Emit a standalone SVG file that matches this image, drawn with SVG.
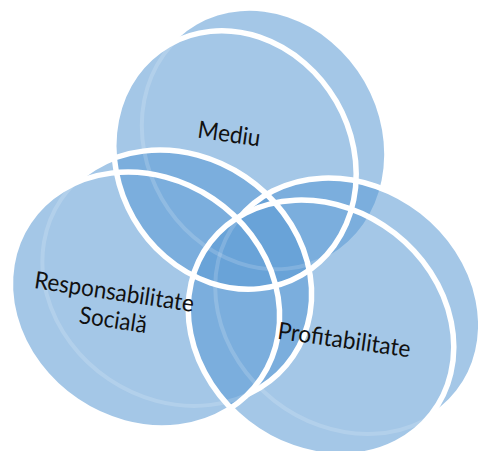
<svg xmlns="http://www.w3.org/2000/svg" width="478" height="451" viewBox="0 0 478 451">
<defs>
<style>
.disk{fill:#5B9BD5}
.layer{opacity:.55}
.rim{fill:none;stroke:#fff;stroke-width:5.5}
.ghost{fill:none;stroke:#fff;stroke-width:4;stroke-opacity:.16}
.label{font-family:Lato,"Open Sans","Liberation Sans",sans-serif;font-size:24px;fill:#111;text-anchor:middle}
</style>
<ellipse id="faceTop" cx="235" cy="160" rx="133" ry="117" transform="rotate(60 235 160)"/>
<ellipse id="faceLeft" cx="145" cy="300" rx="140" ry="122" transform="rotate(34 145 300)"/>
<ellipse id="faceRight" cx="321" cy="328" rx="140" ry="120" transform="rotate(38 321 328)"/>
<clipPath id="inTop"><use href="#faceTop"/></clipPath>
<clipPath id="inLeft"><use href="#faceLeft"/></clipPath>
<clipPath id="inRight"><use href="#faceRight"/></clipPath>
<mask id="outLeft" maskUnits="userSpaceOnUse" x="0" y="0" width="478" height="451"><rect width="478" height="451" fill="#fff"/><use href="#faceLeft" fill="#000"/></mask>
<mask id="outRight" maskUnits="userSpaceOnUse" x="0" y="0" width="478" height="451"><rect width="478" height="451" fill="#fff"/><use href="#faceRight" fill="#000"/></mask>
</defs>

<g id="node-mediu" class="layer">
<use href="#faceTop" x="28" y="-20" class="disk"/>
<use href="#faceTop" class="disk"/>
</g>
<g id="node-responsabilitate" class="layer">
<use href="#faceLeft" x="32" y="-22" class="disk"/>
<use href="#faceLeft" class="disk"/>
</g>
<g id="node-profitabilitate" class="layer">
<use href="#faceRight" x="27" y="-22" class="disk"/>
<use href="#faceRight" class="disk"/>
</g>

<g id="connectors">
<g clip-path="url(#inTop)"><use href="#faceTop" x="28" y="-20" class="ghost"/></g>
<g clip-path="url(#inLeft)"><use href="#faceLeft" x="32" y="-22" class="ghost"/></g>
<g clip-path="url(#inRight)"><use href="#faceRight" x="27" y="-22" class="ghost"/></g>
<g mask="url(#outLeft)"><use href="#faceLeft" x="32" y="-22" class="rim"/></g>
<g mask="url(#outRight)"><use href="#faceRight" x="27" y="-22" class="rim"/></g>
<use href="#faceTop" class="rim"/>
<use href="#faceLeft" class="rim"/>
<use href="#faceRight" class="rim"/>
</g>

<g id="labels">
<text id="label-mediu" class="label" x="228" y="142" transform="rotate(8 228 142)" textLength="63" lengthAdjust="spacingAndGlyphs">Mediu</text>
<text id="label-responsabilitate" class="label" x="113" y="300" transform="rotate(8.5 113 300)" textLength="161" lengthAdjust="spacingAndGlyphs">Responsabilitate</text>
<text id="label-sociala" class="label" x="112" y="328" transform="rotate(8.5 112 328)" textLength="68" lengthAdjust="spacingAndGlyphs">Socială</text>
<text id="label-profitabilitate" class="label" x="343" y="348" transform="rotate(8 343 348)" textLength="134" lengthAdjust="spacingAndGlyphs">Profitabilitate</text>
</g>
</svg>
